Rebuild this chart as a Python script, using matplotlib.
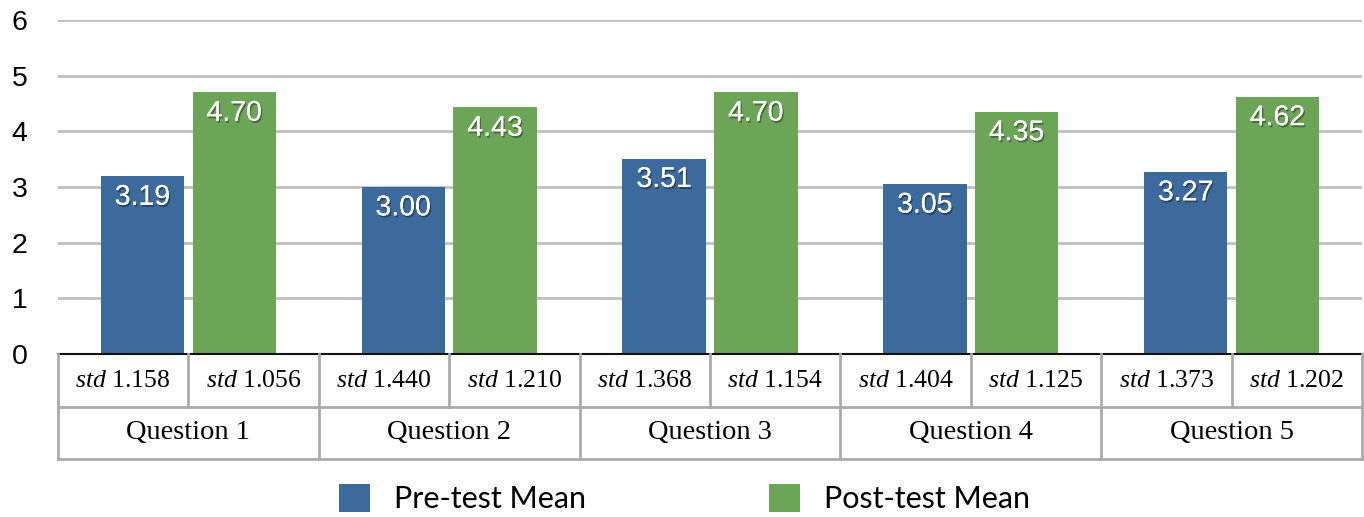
import matplotlib
matplotlib.use('Agg')
import numpy as np
import matplotlib.pyplot as plt
import matplotlib.patheffects as pe

# ─── Data ─────────────────────────────────────────────────────────────────────

questions = ['Question 1', 'Question 2', 'Question 3', 'Question 4', 'Question 5']
pre_mean  = [3.19, 3.00, 3.51, 3.05, 3.27]
post_mean = [4.70, 4.43, 4.70, 4.35, 4.62]
pre_std   = [1.158, 1.440, 1.368, 1.404, 1.373]
post_std  = [1.056, 1.210, 1.154, 1.125, 1.202]
yticks    = [0, 1, 2, 3, 4, 5, 6]

BLUE  = '#3D6A9C'
GREEN = '#6CA558'
GRID  = '#BFBFBF'
TABLE = '#ABABAB'

plt.rcParams['mathtext.fontset'] = 'custom'
plt.rcParams['mathtext.it'] = 'Liberation Serif:italic'
plt.rcParams['mathtext.rm'] = 'Liberation Serif'

W, H = 1364, 517
fig = plt.figure(figsize=(W / 100, H / 100), dpi=100)

# main axes: x 58..1362 px, y 20..354 px
ax = fig.add_axes([58 / W, (H - 354) / H, (1362 - 58) / W, (354 - 20) / H])

n = len(questions)
x = np.arange(n) + 0.5
bw = 0.32
off = 0.176

b1 = ax.bar(x - off, pre_mean, bw, color=BLUE, zorder=3, label='Pre-test Mean')
b2 = ax.bar(x + off, post_mean, bw, color=GREEN, zorder=3, label='Post-test Mean')

shadow = [pe.withSimplePatchShadow(offset=(1, -1.5), shadow_rgbFace='black', alpha=0.35),
          pe.Normal()]
for bars, vals in ((b1, pre_mean), (b2, post_mean)):
    for rect, v in zip(bars, vals):
        ax.annotate(f'{v:.2f}', (rect.get_x() + rect.get_width() / 2, v),
                    xytext=(0, -6), textcoords='offset points',
                    ha='center', va='top', color='white', fontsize=20.5,
                    family='Liberation Sans', zorder=4, path_effects=shadow)

ax.set_xlim(0, n)
ax.set_ylim(0, 6)
ax.set_yticks(yticks)
ax.set_yticklabels([str(t) for t in yticks], family='Liberation Sans', fontsize=20.5)
ax.tick_params(axis='y', length=0, pad=22)
ax.set_xticks([])
for s in ('top', 'right', 'left'):
    ax.spines[s].set_visible(False)
ax.spines['bottom'].set_color('#111111')
ax.spines['bottom'].set_linewidth(1.5)
ax.spines['bottom'].set_zorder(5)
ax.yaxis.grid(True, color=GRID, linewidth=2)
ax.set_axisbelow(True)

# ─── Table below the bars ─────────────────────────────────────────────────────

tab = fig.add_axes([58 / W, (H - 459) / H, (1362 - 58) / W, (459 - 354) / H])
tab.set_xlim(0, n)
tab.set_ylim(0, 2)
tab.axis('off')

lw = 2
tab.plot([0, n], [1, 1], color=TABLE, lw=lw, clip_on=False)
tab.plot([0, n], [0, 0], color=TABLE, lw=lw, clip_on=False)
for i in range(n + 1):
    tab.plot([i, i], [0, 2], color=TABLE, lw=lw, clip_on=False)
for i in range(n):
    tab.plot([i + 0.5, i + 0.5], [1, 2], color=TABLE, lw=lw, clip_on=False)

for i in range(n):
    tab.text(i + 0.25, 1.48, r'$\mathit{std}$' + f' {pre_std[i]:.3f}', ha='center', va='center',
             fontsize=18.5, family='Liberation Serif')
    tab.text(i + 0.75, 1.48, r'$\mathit{std}$' + f' {post_std[i]:.3f}', ha='center', va='center',
             fontsize=18.5, family='Liberation Serif')
    tab.text(i + 0.5, 0.5, questions[i], ha='center', va='center',
             fontsize=20.5, family='Liberation Serif')

# ─── Legend ───────────────────────────────────────────────────────────────────

fig.legend(handles=[b1, b2], loc='center', bbox_to_anchor=(0.502, 0.035), ncol=2,
           frameon=False, prop={'family': 'Lato', 'size': 22},
           handlelength=1.0, handleheight=1.0, handletextpad=0.8, columnspacing=6)

fig.savefig('out.png', dpi=100)
